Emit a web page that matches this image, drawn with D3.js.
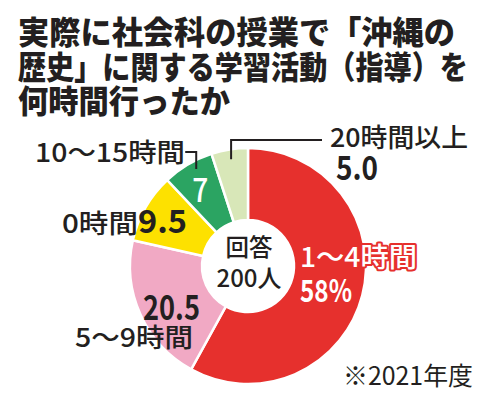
<!DOCTYPE html>
<html>
<head>
<meta charset="utf-8">
<script src="https://cdn.jsdelivr.net/npm/d3@7"></script>
<style>
  html, body { margin: 0; padding: 0; background: #fff; }
  svg { display: block; }
  text { font-family: "Noto Sans CJK JP", "Noto Sans", sans-serif; fill: #231f20; }
</style>
</head>
<body>
<div id="chart"></div>
<script>
// data (percent, clockwise from 12 o'clock)
const categories = ["1～4時間", "5～9時間", "0時間", "10～15時間", "20時間以上"];
const values = [58, 20.5, 9.5, 7, 5.0];
const valueLabels = ["58%", "20.5", "9.5", "7", "5.0"];
const colours = ["#e6302d", "#f1a9c4", "#fde100", "#2ba462", "#d8e7b8"];
const titleLines = ["実際に社会科の授業で「沖縄の", "歴史」に関する学習活動（指導）を", "何時間行ったか"];
const centreLines = ["回答", "200人"];
const note = "※2021年度";

const width = 500, height = 399;
const cx = 248, cy = 266;
const outerR = 118, innerR = 46;

const svg = d3.select("#chart").append("svg")
    .attr("width", width)
    .attr("height", height);

// title, each line stretched to the width it has in the print
const titleWidths = [437, 450, 212];
titleLines.forEach((line, i) => {
    svg.append("text")
        .attr("x", 18)
        .attr("y", 44 + i * 34.5)
        .attr("font-size", 32)
        .attr("font-weight", 900)
        .attr("textLength", titleWidths[i])
        .attr("lengthAdjust", "spacingAndGlyphs")
        .text(line);
});

const pie = d3.pie().sort(null).value(d => d)(values);
const arc = d3.arc().innerRadius(innerR).outerRadius(outerR);

const g = svg.append("g").attr("transform", `translate(${cx},${cy})`);

g.selectAll("path.slice")
    .data(pie)
    .enter()
    .append("path")
    .attr("class", "slice")
    .attr("d", arc)
    .attr("fill", (d, i) => colours[i])
    .attr("stroke", "#fff")
    .attr("stroke-width", 2.5);

// point on the donut at a given angle / radius
function polar(angle, r) {
    return [r * Math.sin(angle), -r * Math.cos(angle)];
}

// leader lines
const lime = pie[4], green = pie[3];
const p1 = polar((lime.startAngle + lime.endAngle) / 2, 108);
g.append("polyline")
    .attr("points", [p1, [p1[0], -126], [74, -126]].map(p => p.join(",")).join(" "))
    .attr("fill", "none").attr("stroke", "#231f20").attr("stroke-width", 2);
const p2 = polar(green.startAngle + (green.endAngle - green.startAngle) * 0.6, 110);
g.append("polyline")
    .attr("points", [[p2[0] - 11, -114], [p2[0], -114], p2].map(p => p.join(",")).join(" "))
    .attr("fill", "none").attr("stroke", "#231f20").attr("stroke-width", 2);

function label(txt, x, y, size, weight, len, opts = {}) {
    const t = g.append("text")
        .attr("x", x)
        .attr("y", y)
        .attr("font-size", size)
        .attr("font-weight", weight)
        .attr("text-anchor", opts.anchor || "start")
        .text(txt);
    if (len) t.attr("textLength", len).attr("lengthAdjust", "spacingAndGlyphs");
    if (opts.fill) t.style("fill", opts.fill);
    if (opts.stroke) t.style("stroke", opts.stroke).style("stroke-width", opts.strokeWidth)
        .style("paint-order", "stroke").style("stroke-linejoin", "round");
    return t;
}

// 1~4時間 (inside the red slice, white with a red rim)
label(categories[0], 52, 1, 27, 500, 117, { fill: "#fff", stroke: colours[0], strokeWidth: 4 });
label(valueLabels[0], 52, 36, 31, 700, 52, { fill: "#fff" });

// 5~9時間
label(valueLabels[1], -105, 54, 34, 700, 57);
label(categories[1], -173, 81, 26, 500, 118);

// 0時間
label(categories[2], -186, -33, 26, 500, 76);
label(valueLabels[2], -110, -33, 32, 700, 49);

// 10~15時間
label(categories[3], -213, -104, 26, 500, 150);
const gc = arc.centroid(green);
label(valueLabels[3], gc[0] - 6, gc[1] + 7, 34, 500, 16, { fill: "#fff", anchor: "middle" });

// 20時間以上
label(categories[4], 82, -119, 26, 500, 138);
label(valueLabels[4], 88, -86, 33, 700, 42);

// centre of the donut
label(centreLines[0], 1, -10, 24, 500, 47, { anchor: "middle" });
label(centreLines[1], 1, 21, 24, 500, 65, { anchor: "middle" });

// note
svg.append("text")
    .attr("x", 343)
    .attr("y", 385)
    .attr("font-size", 25)
    .attr("font-weight", 400)
    .attr("textLength", 130)
    .attr("lengthAdjust", "spacingAndGlyphs")
    .text(note);
</script>
</body>
</html>
